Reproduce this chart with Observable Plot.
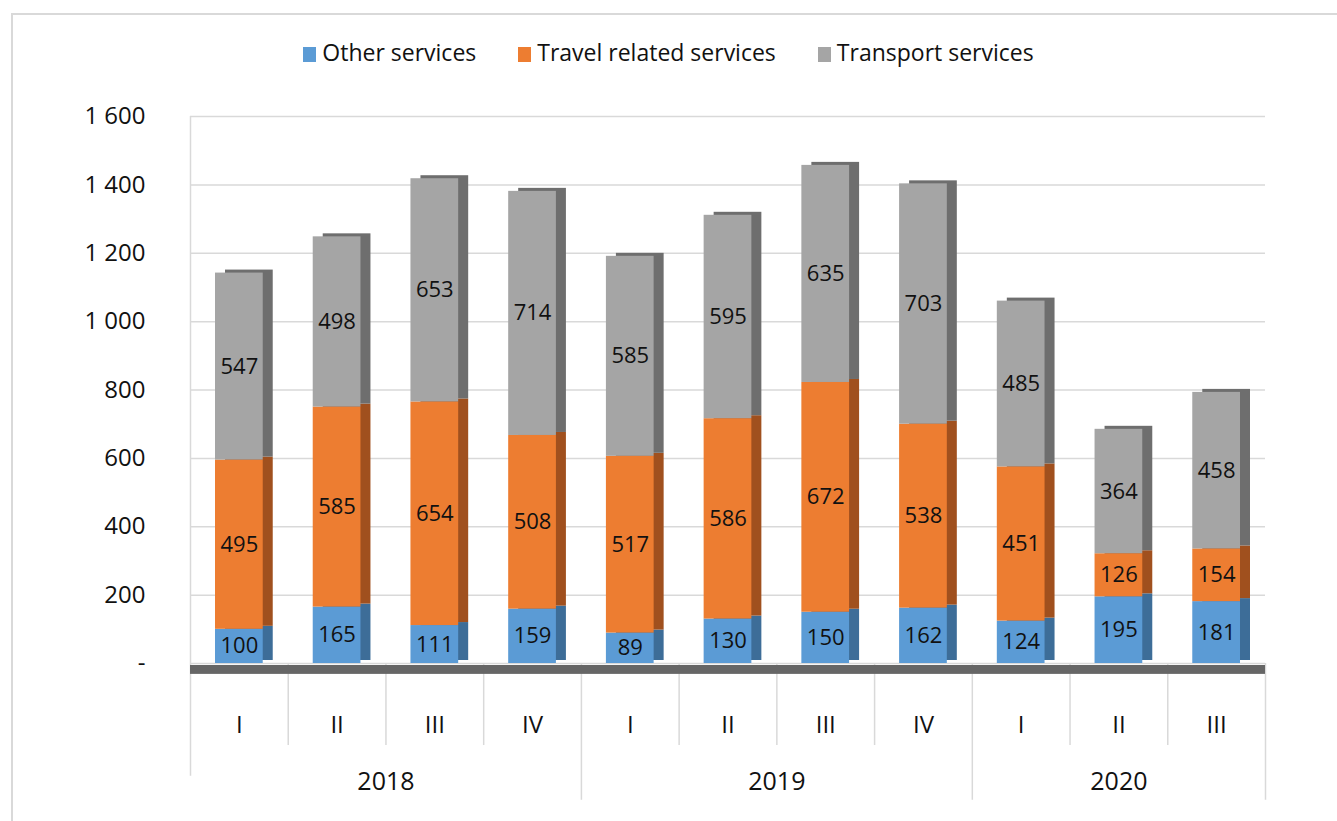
<!DOCTYPE html>
<html>
<head>
<meta charset="utf-8">
<script src="https://cdn.jsdelivr.net/npm/d3@7"></script>
<script src="https://cdn.jsdelivr.net/npm/@observablehq/plot@0.6"></script>
<style>
  html, body { margin: 0; padding: 0; background: #fff; }
  body { width: 1337px; height: 821px; position: relative; overflow: hidden; font-family: "Open Sans", sans-serif; }
  #frame { position: absolute; left: 11px; top: 13px; right: 0; bottom: 0; border-left: 2px solid #d9d9d9; border-top: 2px solid #d9d9d9; }
  #legend { position: absolute; top: 36px; left: 0; width: 1337px; text-align: center; font-size: 23px; color: #111; }
  #legend span.item { display: inline-block; margin: 0 21px; }
  #legend span.sw { display: inline-block; width: 13px; height: 15px; margin-right: 6px; vertical-align: -1px; }
  #chart { position: absolute; top: 90px; left: 0; }
</style>
</head>
<body>
<div id="frame"></div>
<div id="legend"></div>
<div id="chart"></div>
<script>
// ---- Data ----
const quarters = ["I", "II", "III", "IV", "I", "II", "III", "IV", "I", "II", "III"];
const years = ["2018", "2018", "2018", "2018", "2019", "2019", "2019", "2019", "2020", "2020", "2020"];
const seriesNames = ["Other services", "Travel related services", "Transport services"];
const otherServices = [100, 165, 111, 159, 89, 130, 150, 162, 124, 195, 181];
const travelServices = [495, 585, 654, 508, 517, 586, 672, 538, 451, 126, 154];
const transportServices = [547, 498, 653, 714, 585, 595, 635, 703, 485, 364, 458];
const yTicks = [0, 200, 400, 600, 800, 1000, 1200, 1400, 1600];

// ---- Styles ----
const frontColors = {"Other services": "#5b9bd5", "Travel related services": "#ed7d31", "Transport services": "#a5a5a5"};
const sideColors = {"Other services": "#3d6d98", "Travel related services": "#a0501e", "Transport services": "#6e6e6e"};

// legend
const legend = document.getElementById("legend");
seriesNames.forEach(s => {
  const it = document.createElement("span");
  it.className = "item";
  it.innerHTML = `<span class="sw" style="background:${frontColors[s]}"></span>${s}`;
  legend.appendChild(it);
});

const valuesBySeries = [otherServices, travelServices, transportServices];
const rows = quarters.flatMap((q, i) =>
  seriesNames.map((s, k) => ({i, q, year: years[i], series: s, value: valuesBySeries[k][i]}))
);

const n = quarters.length;
// year groups
const yearGroups = d3.groups(quarters.map((q, i) => ({i, year: years[i]})), d => d.year)
  .map(([year, arr]) => ({year, start: arr[0].i, end: arr[arr.length - 1].i + 1}));
const yearBounds = yearGroups.map(g => g.end);
const quarterBounds = d3.range(1, n).filter(b => !yearBounds.includes(b));

const fmt = d => d === 0 ? "-" : d3.format(",")(d).replace(/,/g, " ");

const below = d => -d; // data units below the floor

const chart = Plot.plot({
  width: 1337,
  height: 731,
  marginTop: 26,
  marginBottom: 158,
  marginLeft: 190,
  marginRight: 72,
  x: {domain: [0, n], axis: null},
  y: {domain: [0, 1600], axis: null},
  style: {fontFamily: "Open Sans", background: "transparent", color: "#111"},
  marks: [
    // back wall gridlines
    Plot.ruleY(yTicks, {x1: 0, x2: n, stroke: "#d9d9d9", strokeWidth: 1.5}),
    // left wall edge
    Plot.ruleX([0], {y1: below(330), y2: 1600, stroke: "#d9d9d9", strokeWidth: 1.5}),
    // y tick labels
    Plot.text(yTicks, {x: 0, y: d => d, text: fmt, textAnchor: "end", dx: -45, fontSize: 24, fill: "#111"}),
    // quarter separators
    Plot.ruleX(quarterBounds, {y1: 0, y2: below(240), stroke: "#d9d9d9", strokeWidth: 1.5}),
    // year separators
    Plot.ruleX(yearBounds, {y1: 0, y2: below(400), stroke: "#d9d9d9", strokeWidth: 1.5}),
    // floor
    Plot.rect([0], {x1: 0, x2: n, y1: 0, y2: below(26), fill: "#666666", dy: 2}),
    // side faces
    Plot.rectY(rows, {x1: "i", x2: d => d.i + 1, y: "value", z: "series", fill: d => sideColors[d.series], insetLeft: 25, insetRight: 25, dx: 10, dy: -3}),
    // front faces
    Plot.rectY(rows, {x1: "i", x2: d => d.i + 1, y: "value", z: "series", fill: d => frontColors[d.series], insetLeft: 25, insetRight: 25}),
    // value labels
    Plot.text(rows, Plot.stackY({x: d => d.i + 0.5, y: "value", z: "series", text: d => String(d.value), fontSize: 22, fill: "#111"})),
    // quarter labels
    Plot.text(quarters, {x: (d, i) => i + 0.5, y: 0, text: d => d, dy: 62, fontSize: 24, fill: "#111"}),
    // year labels
    Plot.text(yearGroups, {x: d => (d.start + d.end) / 2, y: 0, text: "year", dy: 118, fontSize: 25, fill: "#111"})
  ]
});
document.getElementById("chart").appendChild(chart);
</script>
</body>
</html>
